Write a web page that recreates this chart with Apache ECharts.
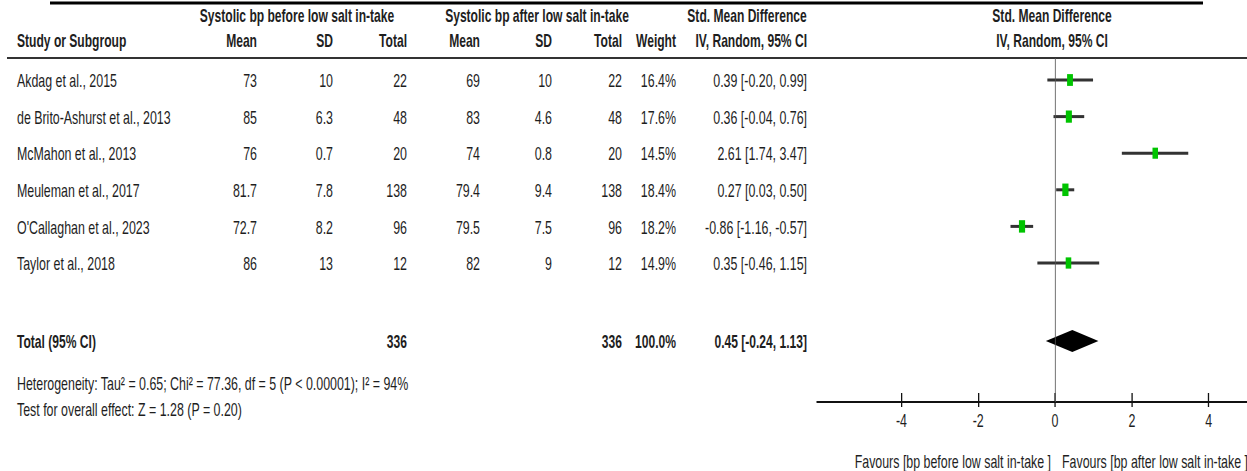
<!DOCTYPE html>
<html>
<head>
<meta charset="utf-8">
<script src="https://cdn.jsdelivr.net/npm/echarts@6/dist/echarts.min.js"></script>
<style>
  html, body { margin: 0; padding: 0; background: #fff; overflow: hidden; }
  #wrap { width: 1247px; height: 471px; overflow: hidden; }
  /* the forest plot uses a narrow typeface: the chart is drawn wide and squeezed */
  #chart { width: 1910px; height: 471px; transform: scaleX(0.652880); transform-origin: 0 0; }
</style>
</head>
<body>
<div id="wrap"><div id="chart"></div></div>
<script>
// ---- study data ----
const studies = [
  'Akdag et al., 2015',
  'de Brito-Ashurst et al., 2013',
  'McMahon et al., 2013',
  'Meuleman et al., 2017',
  "O'Callaghan et al., 2023",
  'Taylor et al., 2018'
];
const meanBefore = ['73', '85', '76', '81.7', '72.7', '86'];
const sdBefore   = ['10', '6.3', '0.7', '7.8', '8.2', '13'];
const nBefore    = [22, 48, 20, 138, 96, 12];
const meanAfter  = ['69', '83', '74', '79.4', '79.5', '82'];
const sdAfter    = ['10', '4.6', '0.8', '9.4', '7.5', '9'];
const nAfter     = [22, 48, 20, 138, 96, 12];
const weights    = [16.4, 17.6, 14.5, 18.4, 18.2, 14.9];
const smd        = [0.39, 0.36, 2.61, 0.27, -0.86, 0.35];
const ciLow      = [-0.20, -0.04, 1.74, 0.03, -1.16, -0.46];
const ciHigh     = [0.99, 0.76, 3.47, 0.50, -0.57, 1.15];

// pooled estimate
const totalBefore = 336;
const totalAfter = 336;
const totalWeight = 100.0;
const pooledSmd = 0.45;
const pooledLow = -0.24;
const pooledHigh = 1.13;

const heterogeneityText = 'Heterogeneity: Tau\u00b2 = 0.65; Chi\u00b2 = 77.36, df = 5 (P < 0.00001); I\u00b2 = 94%';
const overallEffectText = 'Test for overall effect: Z = 1.28 (P = 0.20)';
const favoursLeft = 'Favours [bp before low salt in-take ]';
const favoursRight = 'Favours [bp after low salt in-take ]';
const tickValues = [-4, -2, 0, 2, 4];

// ---- layout (page pixels; x is converted through the horizontal squeeze) ----
const CHART_W = 1910;
const W = 1247, H = 471;
const SX = W / CHART_W;          // horizontal squeeze factor
const ROW0 = 80, ROW_H = 36.6;   // first study row and row pitch
const rowAt = px => (px - ROW0) / ROW_H;
const PLOT_TOP = 58, PLOT_BOTTOM = 402, PLOT_LEFT = 817;
const ROW_HEAD1 = rowAt(15), ROW_HEAD2 = rowAt(40);
const ROW_TOTAL = rowAt(341), ROW_HET = rowAt(383), ROW_TEST = rowAt(409), ROW_FAV = rowAt(461);
const COL = { study: 17, mean1: 257, sd1: 333, n1: 407, mean2: 480, sd2: 552, n2: 622, weight: 676, ci: 807, plot: 1052 };
const FONT = '"Liberation Sans", Arial, sans-serif';
const SIZE = 19, SIZE_BOLD = 18.5;
const INK = '#1e1e1e';

const fmt = v => v.toFixed(2);
const ciText = (e, l, h) => `${fmt(e)} [${fmt(l)}, ${fmt(h)}]`;

// ---- table cells ----
const cells = [];
const cell = (x, row, text, align, bold) =>
  cells.push({ value: [x, row], text: String(text), align, bold: !!bold });

cell(297, ROW_HEAD1, 'Systolic bp before low salt in-take', 'center', true);
cell(537, ROW_HEAD1, 'Systolic bp after low salt in-take', 'center', true);
cell(747, ROW_HEAD1, 'Std. Mean Difference', 'center', true);
cell(COL.plot, ROW_HEAD1, 'Std. Mean Difference', 'center', true);
cell(COL.study, ROW_HEAD2, 'Study or Subgroup', 'left', true);
cell(COL.mean1, ROW_HEAD2, 'Mean', 'right', true);
cell(COL.sd1, ROW_HEAD2, 'SD', 'right', true);
cell(COL.n1, ROW_HEAD2, 'Total', 'right', true);
cell(COL.mean2, ROW_HEAD2, 'Mean', 'right', true);
cell(COL.sd2, ROW_HEAD2, 'SD', 'right', true);
cell(COL.n2, ROW_HEAD2, 'Total', 'right', true);
cell(COL.weight, ROW_HEAD2, 'Weight', 'right', true);
cell(COL.ci, ROW_HEAD2, 'IV, Random, 95% CI', 'right', true);
cell(COL.plot, ROW_HEAD2, 'IV, Random, 95% CI', 'center', true);

studies.forEach((s, i) => {
  cell(COL.study, i, s, 'left');
  cell(COL.mean1, i, meanBefore[i], 'right');
  cell(COL.sd1, i, sdBefore[i], 'right');
  cell(COL.n1, i, nBefore[i], 'right');
  cell(COL.mean2, i, meanAfter[i], 'right');
  cell(COL.sd2, i, sdAfter[i], 'right');
  cell(COL.n2, i, nAfter[i], 'right');
  cell(COL.weight, i, weights[i].toFixed(1) + '%', 'right');
  cell(COL.ci, i, ciText(smd[i], ciLow[i], ciHigh[i]), 'right');
});

cell(COL.study, ROW_TOTAL, 'Total (95% CI)', 'left', true);
cell(COL.n1, ROW_TOTAL, totalBefore, 'right', true);
cell(COL.n2, ROW_TOTAL, totalAfter, 'right', true);
cell(COL.weight, ROW_TOTAL, totalWeight.toFixed(1) + '%', 'right', true);
cell(COL.ci, ROW_TOTAL, ciText(pooledSmd, pooledLow, pooledHigh), 'right', true);
cell(COL.study, ROW_HET, heterogeneityText, 'left');
cell(COL.study, ROW_TEST, overallEffectText, 'left');
cell(1051, ROW_FAV, favoursLeft, 'right');
cell(1062, ROW_FAV, favoursRight, 'left');

// ---- study estimates for the plot ----
const forestData = studies.map((s, i) => [smd[i], i, ciLow[i], ciHigh[i], weights[i]]);
const pooledData = [[pooledSmd, ROW_TOTAL, pooledLow, pooledHigh]];

const chart = echarts.init(document.getElementById('chart'), null, { renderer: 'svg' });

const plotAxisBase = {
  type: 'value', gridIndex: 1, min: -6.2, max: 5, position: 'bottom',
  splitLine: { show: false }
};

chart.setOption({
  animation: false,
  backgroundColor: '#fff',
  grid: [
    { left: 0, right: 0, top: 0, bottom: 0 },
    { left: PLOT_LEFT / SX, right: 0, top: PLOT_TOP, bottom: H - PLOT_BOTTOM }
  ],
  xAxis: [
    { type: 'value', gridIndex: 0, min: 0, max: W, show: false },
    Object.assign({}, plotAxisBase, {
      axisLine: { show: true, onZero: false, lineStyle: { color: '#111', width: 2 } },
      axisTick: { show: true, inside: true, length: 9, customValues: tickValues, lineStyle: { color: '#111', width: 2 } },
      axisLabel: { show: true, customValues: tickValues, margin: 8, fontSize: SIZE, fontFamily: FONT, color: INK }
    }),
    Object.assign({}, plotAxisBase, {
      axisLine: { show: false, onZero: false },
      axisTick: { show: true, inside: false, length: 5, customValues: tickValues, lineStyle: { color: '#111', width: 2 } },
      axisLabel: { show: false }
    })
  ],
  yAxis: [
    { type: 'value', gridIndex: 0, inverse: true, min: rowAt(0), max: rowAt(H), show: false },
    { type: 'value', gridIndex: 1, inverse: true, min: rowAt(PLOT_TOP), max: rowAt(PLOT_BOTTOM), show: false }
  ],
  graphic: [
    // top rule
    { type: 'line', shape: { x1: 50 / SX, y1: 3, x2: 1203 / SX, y2: 3 }, style: { stroke: '#000', lineWidth: 3 } },
    // rule under the column headers
    { type: 'line', shape: { x1: 7 / SX, y1: PLOT_TOP, x2: W / SX, y2: PLOT_TOP }, style: { stroke: '#333', lineWidth: 2 } }
  ],
  series: [
    {
      // table text
      type: 'custom', xAxisIndex: 0, yAxisIndex: 0, clip: false, silent: true,
      data: cells.map(c => c.value),
      renderItem: (params, api) => {
        const c = cells[params.dataIndex];
        const p = api.coord([api.value(0), api.value(1)]);
        return {
          type: 'text', x: p[0], y: p[1],
          style: {
            text: c.text, fill: INK, align: c.align, verticalAlign: 'middle',
            font: c.bold ? `bold ${SIZE_BOLD}px ${FONT}` : `${SIZE}px ${FONT}`
          }
        };
      }
    },
    {
      // confidence intervals and weighted point estimates
      type: 'custom', xAxisIndex: 1, yAxisIndex: 1, clip: false,
      data: forestData,
      renderItem: (params, api) => {
        const c = api.coord([api.value(0), api.value(1)]);
        const lo = api.coord([api.value(2), api.value(1)]);
        const hi = api.coord([api.value(3), api.value(1)]);
        const s = Math.sqrt(api.value(4) / 18.4);
        const w = 9.5 * s, h = 12.5 * s;
        return {
          type: 'group', children: [
            { type: 'line', shape: { x1: lo[0], y1: c[1], x2: hi[0], y2: c[1] }, style: { stroke: '#333', lineWidth: 3 } },
            { type: 'rect', shape: { x: c[0] - w / 2, y: c[1] - h / 2, width: w, height: h }, style: { fill: '#00c400' } }
          ]
        };
      },
      markLine: {
        silent: true, symbol: 'none', label: { show: false },
        lineStyle: { color: '#555', width: 1, type: 'solid' },
        data: [{ xAxis: 0 }]
      }
    },
    {
      // pooled estimate diamond
      type: 'custom', xAxisIndex: 1, yAxisIndex: 1, clip: false,
      data: pooledData,
      renderItem: (params, api) => {
        const c = api.coord([api.value(0), api.value(1)]);
        const lo = api.coord([api.value(2), api.value(1)]);
        const hi = api.coord([api.value(3), api.value(1)]);
        const hh = 11;
        return {
          type: 'polygon',
          shape: { points: [[lo[0], c[1]], [c[0], c[1] - hh], [hi[0], c[1]], [c[0], c[1] + hh]] },
          style: { fill: '#000' }
        };
      }
    }
  ]
});
</script>
</body>
</html>
